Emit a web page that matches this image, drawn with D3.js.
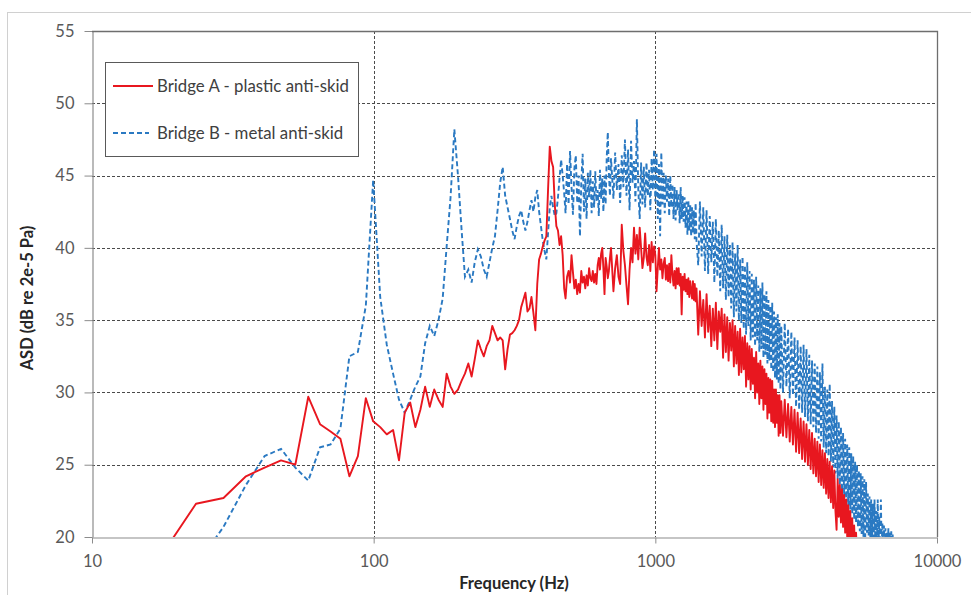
<!DOCTYPE html>
<html>
<head>
<meta charset="utf-8">
<script src="https://cdn.jsdelivr.net/npm/d3@7"></script>
<style>
  html, body { margin: 0; padding: 0; background: #fff; }
  svg { display: block; }
</style>
</head>
<body>
<svg id="chart"></svg>
<script>
// FFT bins at the low end (bins 3..81, about 5.86 Hz apart)
const binHz = [17.6, 23.4, 29.3, 35.2, 41.0, 46.9, 52.7, 58.6, 64.5, 70.3,
  76.2, 82.0, 87.9, 93.8, 99.6, 105.5, 111.3, 117.2, 123.0, 128.9,
  134.8, 140.6, 146.5, 152.3, 158.2, 164.1, 169.9, 175.8, 181.6, 187.5,
  193.4, 199.2, 205.1, 210.9, 216.8, 222.7, 228.5, 234.4, 240.2, 246.1,
  251.9, 257.8, 263.7, 269.5, 275.4, 281.3, 287.1, 293.0, 298.8, 304.7,
  310.5, 316.4, 322.3, 328.1, 334.0, 339.8, 345.7, 351.6, 357.4, 363.3,
  369.1, 375.0, 380.9, 386.7, 392.6, 398.4, 404.3, 410.2, 416.0, 421.9,
  427.7, 433.6, 439.5, 445.3, 451.2, 457.0, 462.9, 468.8, 474.6];

const redLowDb = [18.7, 22.3, 22.7, 24.2, 24.8, 25.3, 25.0, 29.7, 27.8, 27.3,
  26.8, 24.2, 25.6, 29.6, 28.0, 27.6, 27.1, 27.4, 25.3, 28.6,
  29.3, 27.6, 28.8, 30.4, 29.0, 30.2, 29.5, 29.0, 31.3, 30.4,
  29.9, 30.2, 30.8, 31.3, 32.0, 31.1, 32.3, 33.6, 33.0, 32.5,
  33.2, 33.6, 34.6, 34.1, 33.6, 33.8, 33.6, 31.6, 33.0, 34.0,
  34.1, 34.3, 34.6, 35.0, 35.9, 36.4, 36.9, 35.6, 35.8, 36.6,
  35.5, 34.3, 37.5, 39.2, 39.6, 40.1, 40.5, 40.8, 44.0, 47.0,
  46.0, 45.6, 43.0, 41.5, 41.2, 40.2, 40.8, 39.5, 37.2];

const blueLowDb = [null, 18.0, 20.7, 23.6, 25.6, 26.1, 24.8, 23.9, 26.2, 26.4,
  27.5, 32.5, 32.8, 36.0, 44.7, 36.6, 33.3, 31.3, 29.5, 28.6,
  29.5, 30.4, 31.1, 33.4, 34.6, 33.9, 35.0, 36.5, 40.1, 43.5,
  48.2, 45.0, 41.3, 38.0, 38.5, 37.6, 39.0, 39.9, 39.4, 38.5,
  38.0, 39.0, 40.0, 40.8, 42.6, 44.5, 45.6, 43.6, 42.8, 42.0,
  41.2, 40.6, 41.5, 42.2, 42.6, 41.8, 41.2, 41.8, 42.6, 43.3,
  42.5, 43.5, 44.0, 42.5, 41.5, 40.5, 39.8, 39.2, 41.0, 42.8,
  43.6, 42.8, 42.2, 42.4, 43.5, 44.8, 46.1, 45.0, 43.8];

// decimated spectrum above 480 Hz
const denseHz = [
  480, 486, 492, 498, 504, 510, 516, 522, 528, 534, 540, 546, 552, 558, 564, 570, 576, 582, 588,
  594, 600, 606, 612, 618, 624, 630, 636, 642, 648, 654, 660, 666, 672, 678, 684, 690, 696,
  710, 720, 730, 740, 750, 760, 770, 780, 790, 800, 810, 820, 830, 840, 850, 860, 870, 880,
  890, 900, 910, 920, 930, 940, 950, 960, 970, 980, 990, 1000, 1010, 1020, 1030, 1040, 1050,
  1060, 1070, 1080, 1090, 1100, 1110, 1120, 1130, 1140, 1150, 1160, 1170, 1180, 1190, 1200,
  1210, 1220, 1230, 1240, 1250, 1260, 1270, 1280, 1290, 1300, 1310, 1320, 1330, 1340, 1350,
  1360, 1370, 1380, 1390, 1400,
  1420, 1440, 1460, 1480, 1500, 1520, 1540, 1560, 1580, 1600, 1620, 1640, 1660, 1680, 1700,
  1720, 1740, 1760, 1780, 1800, 1820, 1840, 1860, 1880, 1900, 1920, 1940, 1960, 1980, 2000,
  2020, 2040, 2060, 2080, 2100, 2120, 2140, 2160, 2180, 2200, 2220, 2240, 2260, 2280, 2300,
  2320, 2340, 2360, 2380, 2400, 2420, 2440, 2460, 2480, 2500, 2520, 2540, 2560, 2580, 2600,
  2620, 2640, 2660, 2680, 2700, 2720, 2740, 2760, 2780, 2800,
  2840, 2880, 2920, 2960, 3000, 3040, 3080, 3120, 3160, 3200, 3240, 3280, 3320, 3360, 3400,
  3440, 3480, 3520, 3560, 3600, 3640, 3680, 3720, 3760, 3800, 3840, 3880, 3920, 3960, 4000,
  4040, 4080, 4120, 4160, 4200, 4240, 4280, 4320, 4360, 4400, 4440, 4480, 4520, 4560, 4600,
  4640, 4680, 4720, 4760, 4800, 4840, 4880, 4920, 4960, 5000, 5040, 5080, 5120, 5160, 5200,
  5240, 5280, 5320, 5360, 5400, 5440, 5480, 5520, 5560, 5600,
  5640, 5680, 5720, 5760, 5800, 5840, 5880, 5920, 5960, 6000, 6040, 6080, 6120, 6160, 6200,
  6240, 6280, 6320, 6360, 6400, 6440, 6480, 6520, 6560, 6600, 6640, 6680, 6720, 6760, 6800,
  6840, 6880, 6920, 6960, 7000];

const redDenseDb = [
  36.5, 38.0, 38.4, 37.6, 39.5, 38.3, 37.2, 37.8, 36.8, 37.5, 36.9, 38.4, 37.6, 38.0, 37.2, 38.1, 37.4, 38.6, 37.9,
  37.7, 38.4, 37.6, 38.2, 37.5, 38.8, 39.3, 38.5, 39.6, 40.0, 38.6, 36.8, 39.3, 38.7, 37.9, 38.4, 39.3, 40.0,
  37.0, 38.6, 39.5, 38.0, 37.5, 41.6, 39.8, 38.8, 37.4, 36.1, 38.5, 40.0, 39.0, 41.4, 39.6, 40.9, 39.2, 41.4,
  40.0, 38.6, 39.3, 41.0, 39.4, 38.8, 40.2, 38.4, 40.4, 39.0, 40.1, 39.5, 37.0, 38.6, 40.0, 38.5, 39.2,
  37.9, 38.9, 39.3, 37.8, 38.8, 37.7, 38.9, 37.6, 39.5, 38.2, 37.4, 38.4, 37.2, 38.6, 37.5,
  38.6, 37.4, 38.2, 35.4, 38.0, 37.1, 38.2, 37.0, 37.8, 36.8, 37.9, 36.6, 37.7, 37.0, 36.5,
  37.7, 36.4, 37.5, 36.3, 37.2,
  34.0, 37.0, 34.6, 36.4, 33.8, 36.8, 34.2, 36.0, 33.2, 35.8, 33.6, 36.2, 33.0, 35.6, 34.2,
  35.8, 32.4, 35.4, 32.8, 35.2, 32.2, 34.8, 32.9, 35.0, 31.8, 34.6, 32.0, 34.2, 31.2, 34.4,
  31.4, 33.8, 31.6, 33.9, 30.4, 33.4, 30.9, 33.2, 30.2, 33.0, 30.6, 32.4, 29.6, 32.8, 30.0,
  32.0, 29.2, 32.2, 29.6, 31.8, 28.8, 31.6, 29.2, 31.3, 28.2, 31.0, 28.6, 30.9, 28.0, 30.8,
  27.9, 30.2, 27.6, 30.2, 27.9, 29.8, 27.0, 29.8, 27.2, 29.4,
  27.0, 29.5, 26.9, 29.2, 26.6, 29.0, 26.4, 28.8, 25.9, 28.6, 25.8, 28.2, 25.4, 28.0, 25.2,
  27.8, 25.0, 27.4, 24.7, 27.2, 24.4, 26.8, 24.2, 26.6, 23.8, 26.4, 23.6, 26.0, 23.4, 25.8,
  23.0, 25.4, 22.7, 25.2, 22.4, 24.9, 22.0, 24.6, 21.8, 20.5, 24.0, 21.4, 23.6, 21.0, 23.3,
  20.7, 22.9, 20.3, 22.6, 20.0, 22.2, 19.8, 21.8, 19.5, 21.3, 19.2, 20.8, 19.0, 20.3, 18.6];

const blueDenseDb = [
  42.4, 45.8, 43.0, 46.7, 44.2, 42.3, 45.5, 46.4, 43.1, 45.0, 40.8, 44.6, 46.5, 42.5, 44.8, 42.0, 45.2, 43.5, 45.4,
  42.4, 44.6, 42.8, 45.3, 43.2, 44.0, 42.2, 45.4, 43.4, 44.8, 42.5, 45.0, 43.0, 46.2, 48.0, 45.2, 43.6, 46.2,
  43.4, 46.6, 44.0, 45.8, 43.1, 46.4, 44.2, 47.5, 43.6, 46.8, 42.6, 47.4, 44.5, 46.0, 43.2, 48.9, 44.0, 42.0,
  45.9, 43.0, 45.6, 42.8, 45.9, 43.6, 45.4, 42.6, 46.2, 44.0, 46.8, 43.2, 46.5, 42.0, 45.8, 40.8, 46.6,
  43.0, 45.2, 42.4, 45.0, 43.2, 44.8, 42.2, 45.0, 42.8, 44.4, 42.0, 44.2, 41.9, 44.0, 42.6,
  43.8, 41.7, 44.2, 42.0, 43.6, 41.8, 43.5, 41.4, 43.2, 40.9, 43.3, 41.2, 43.0, 40.8, 42.8,
  41.0, 42.6, 40.6, 43.1, 40.5,
  38.8, 43.2, 39.4, 42.8, 38.4, 42.6, 38.2, 42.2, 39.0, 41.8, 37.6, 42.0, 38.0, 41.2, 37.0,
  41.6, 37.2, 40.8, 36.4, 40.9, 36.6, 40.2, 35.8, 40.4, 35.2, 39.6, 35.6, 40.2, 35.0, 39.2,
  34.8, 39.4, 34.4, 38.8, 34.0, 39.0, 34.6, 38.4, 33.6, 38.2, 33.8, 37.8, 33.2, 38.0, 33.6,
  37.4, 32.8, 37.2, 33.0, 37.6, 32.4, 36.8, 32.6, 37.0, 32.0, 36.4, 32.2, 36.0, 31.6, 36.2,
  31.4, 35.6, 31.0, 35.2, 30.9, 35.4, 30.6, 34.8, 30.2, 34.6,
  30.0, 34.8, 30.4, 34.4, 29.6, 34.2, 29.8, 33.8, 29.0, 33.6, 28.8, 33.2, 28.6, 33.3, 28.3,
  33.0, 28.0, 32.6, 27.8, 32.2, 27.6, 32.0, 27.2, 31.8, 26.8, 31.4, 26.6, 32.0, 26.2, 30.4,
  25.8, 30.2, 25.6, 30.6, 25.2, 29.4, 24.8, 29.0, 24.4, 28.4, 24.0, 28.0, 23.6, 27.6, 23.2,
  27.2, 22.8, 26.8, 22.4, 26.4, 22.2, 26.2, 21.9, 25.8, 21.6, 25.6, 21.2, 25.2, 21.0, 25.0,
  20.7, 24.6, 20.4, 24.4, 20.2, 24.2, 20.0, 24.0, 19.8, 23.8,
  20.3, 23.0, 20.1, 22.8, 19.9, 22.6, 19.8, 22.3, 19.7, 22.6, 19.6, 21.8, 19.5, 22.6, 19.4,
  21.4, 19.3, 22.6, 19.2, 21.0, 19.1, 20.8, 19.0, 20.6, 19.0, 20.4, 18.9, 20.6, 18.8, 20.3,
  18.8, 20.4, 18.7, 20.2, 18.5];

const xTicks = [10, 100, 1000, 10000];
const yTicks = [20, 25, 30, 35, 40, 45, 50, 55];
const seriesNames = ["Bridge A - plastic anti-skid", "Bridge B - metal anti-skid"];

const width = 971, height = 595;
const margin = {left: 92, right: 34, top: 31, bottom: 58};
const font = "Lato, 'Open Sans', sans-serif";
const red = "#e8171f", blue = "#2a79c2";

const svg = d3.select("#chart")
  .attr("width", width)
  .attr("height", height)
  .attr("viewBox", [0, 0, width, height]);

// outer chart frame
svg.append("rect")
  .attr("x", 7.5).attr("y", 12.5)
  .attr("width", width + 10).attr("height", height + 10)
  .attr("fill", "none").attr("stroke", "#d0d0d0");

const x = d3.scaleLog().domain([10, 10000]).range([margin.left, width - margin.right]);
const y = d3.scaleLinear().domain([20, 55]).range([height - margin.bottom, margin.top]);

svg.append("defs").append("clipPath").attr("id", "plot")
  .append("rect")
  .attr("x", x(10)).attr("y", y(55))
  .attr("width", x(10000) - x(10)).attr("height", y(20) - y(55));

// grid
const grid = svg.append("g")
  .attr("stroke", "#4a4a4a")
  .attr("stroke-width", 1)
  .attr("stroke-dasharray", "3,2");
grid.selectAll(".gy")
  .data(yTicks.filter(d => d > 20 && d < 55))
  .join("line")
  .attr("x1", x(10)).attr("x2", x(10000))
  .attr("y1", d => Math.round(y(d)) + 0.5).attr("y2", d => Math.round(y(d)) + 0.5);
grid.selectAll(".gx")
  .data([100, 1000])
  .join("line")
  .attr("y1", y(55)).attr("y2", y(20))
  .attr("x1", d => Math.round(x(d)) + 0.5).attr("x2", d => Math.round(x(d)) + 0.5);

// axes
const xAxis = d3.axisBottom(x).tickValues(xTicks).tickFormat(d3.format("d"))
  .tickSizeInner(6).tickSizeOuter(0).tickPadding(12);
const yAxis = d3.axisLeft(y).tickValues(yTicks)
  .tickSizeInner(8).tickSizeOuter(0).tickPadding(10);

const gx = svg.append("g")
  .attr("transform", `translate(0,${Math.round(y(20)) + 0.5})`)
  .call(xAxis);
const gy = svg.append("g")
  .attr("transform", `translate(${Math.round(x(10)) + 0.5},0)`)
  .call(yAxis);

[gx, gy].forEach(g => {
  g.select(".domain").attr("stroke", "#8c8c8c").attr("stroke-width", 1.2);
  g.selectAll(".tick line").attr("stroke", "#8c8c8c");
  g.selectAll(".tick text")
    .attr("fill", "#595959")
    .style("font-family", font)
    .style("font-size", "16.5px");
});

// top and right plot border
svg.append("path")
  .attr("d", `M${x(10)},${Math.round(y(55)) + 0.5}H${Math.round(x(10000)) + 0.5}V${y(20)}`)
  .attr("fill", "none")
  .attr("stroke", "#6e6e6e")
  .attr("stroke-width", 1.3);

// series
const line = d3.line()
  .defined(d => d[1] != null)
  .x(d => x(d[0]))
  .y(d => y(d[1]));

const redData = binHz.map((f, i) => [f, redLowDb[i]])
  .concat(redDenseDb.map((v, i) => [denseHz[i], v]));
const blueData = binHz.map((f, i) => [f, blueLowDb[i]])
  .concat(blueDenseDb.map((v, i) => [denseHz[i], v]));

const plot = svg.append("g").attr("clip-path", "url(#plot)");

plot.append("path")
  .datum(blueData)
  .attr("fill", "none")
  .attr("stroke", blue)
  .attr("stroke-width", 1.9)
  .attr("stroke-dasharray", "5,3")
  .attr("d", line);

plot.append("path")
  .datum(redData)
  .attr("fill", "none")
  .attr("stroke", red)
  .attr("stroke-width", 1.9)
  .attr("stroke-linejoin", "round")
  .attr("d", line);

// axis titles
svg.append("text")
  .attr("x", 514).attr("y", 589)
  .attr("text-anchor", "middle")
  .style("font-family", font)
  .style("font-size", "16.5px")
  .style("font-weight", "bold")
  .attr("fill", "#262626")
  .text("Frequency (Hz)");

svg.append("text")
  .attr("transform", "translate(33,298) rotate(-90)")
  .attr("text-anchor", "middle")
  .style("font-family", font)
  .style("font-size", "16.5px")
  .style("font-weight", "bold")
  .attr("fill", "#262626")
  .text("ASD (dB re 2e-5 Pa)");

// legend
const legend = svg.append("g");
legend.append("rect")
  .attr("x", 105.5).attr("y", 62.5)
  .attr("width", 253).attr("height", 94)
  .attr("fill", "#fff")
  .attr("stroke", "#595959");

const legendRows = [
  {name: seriesNames[0], color: red, dash: null, x2: 153, y: 86},
  {name: seriesNames[1], color: blue, dash: "5,3", x2: 149, y: 133}
];
legendRows.forEach(r => {
  legend.append("line")
    .attr("x1", 113).attr("x2", r.x2)
    .attr("y1", r.y).attr("y2", r.y)
    .attr("stroke", r.color)
    .attr("stroke-width", 1.8)
    .attr("stroke-dasharray", r.dash);
  legend.append("text")
    .attr("x", 157).attr("y", r.y + 5.5)
    .style("font-family", font)
    .style("font-size", "16.8px")
    .attr("fill", "#404040")
    .text(r.name);
});
</script>
</body>
</html>
